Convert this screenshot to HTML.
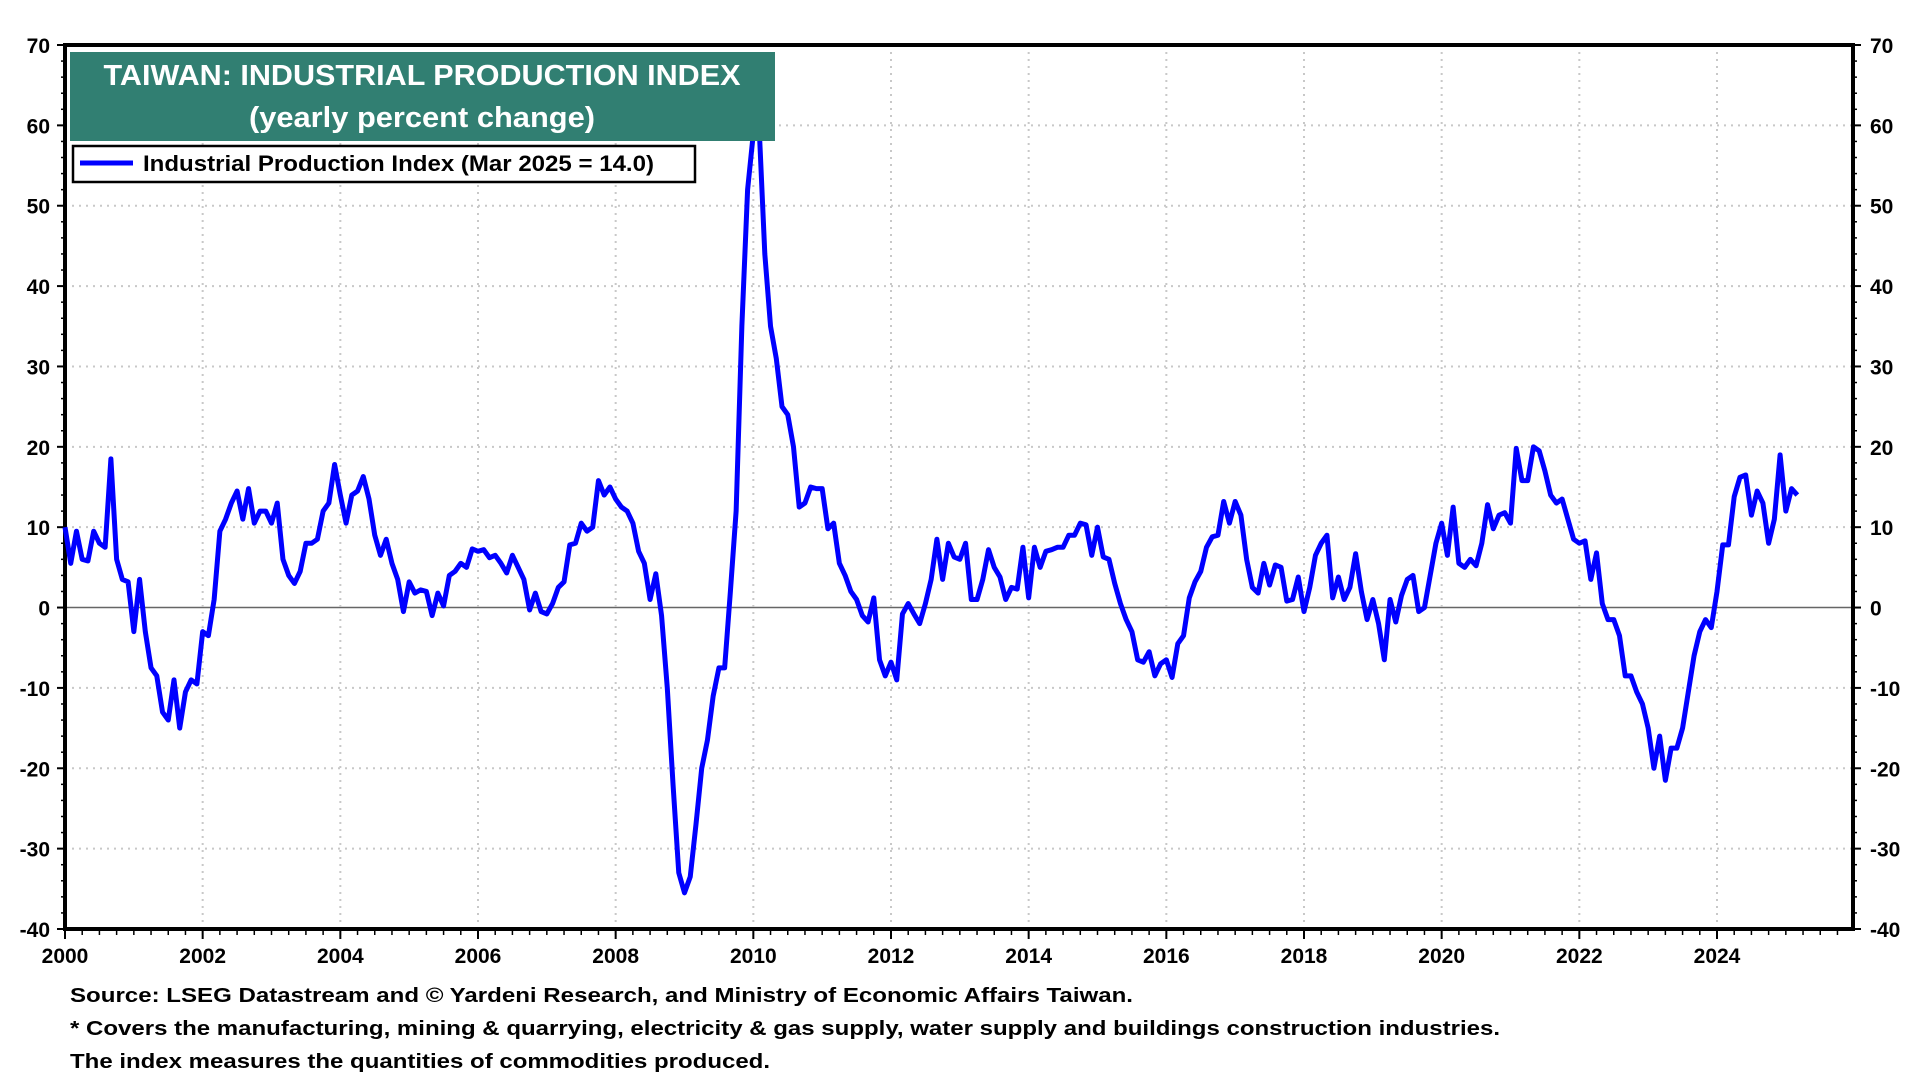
<!DOCTYPE html>
<html><head><meta charset="utf-8"><style>
html,body{margin:0;padding:0;background:#fff;}
svg{display:block;font-family:"Liberation Sans",Arial,sans-serif;}
</style></head><body>
<svg id="chart" width="1920" height="1080" viewBox="0 0 1920 1080" xmlns="http://www.w3.org/2000/svg">
<g id="grid"></g>
<g id="axes"></g>
<path id="series" fill="none" stroke="#0000ff" stroke-width="5" stroke-linejoin="round"/>
<g>
<rect x="70" y="52" width="705" height="89" fill="#317f72"/>
<text x="422" y="85" text-anchor="middle" fill="#fff" font-weight="bold" font-size="29" textLength="637" lengthAdjust="spacingAndGlyphs">TAIWAN: INDUSTRIAL PRODUCTION INDEX</text>
<text x="422" y="127" text-anchor="middle" fill="#fff" font-weight="bold" font-size="29" textLength="346" lengthAdjust="spacingAndGlyphs">(yearly percent change)</text>
</g>
<g>
<rect x="73" y="146" width="622" height="36" fill="#fff" stroke="#000" stroke-width="2.5"/>
<line x1="80" y1="163" x2="133" y2="163" stroke="#0000ff" stroke-width="5"/>
<text x="143" y="171" font-weight="bold" font-size="22" textLength="511" lengthAdjust="spacingAndGlyphs">Industrial Production Index (Mar 2025 = 14.0)</text>
</g>
<g font-weight="bold" font-size="20">
<text x="70" y="1002" textLength="1063" lengthAdjust="spacingAndGlyphs">Source: LSEG Datastream and © Yardeni Research, and Ministry of Economic Affairs Taiwan.</text>
<text x="70" y="1035" textLength="1430" lengthAdjust="spacingAndGlyphs">* Covers the manufacturing, mining &amp; quarrying, electricity &amp; gas supply, water supply and buildings construction industries.</text>
<text x="70" y="1068" textLength="700" lengthAdjust="spacingAndGlyphs">The index measures the quantities of commodities produced.</text>
</g>
</svg>
<script>
const startYear = 2000;
const xTickYears = [2000,2002,2004,2006,2008,2010,2012,2014,2016,2018,2020,2022,2024];
const yTicks = [70,60,50,40,30,20,10,0,-10,-20,-30,-40];
const values2000s = [10,5.5,9.5,6,5.8,9.5,8,7.5,18.5,6,3.5,3.2,
-3,3.5,-3,-7.5,-8.5,-13,-14,-9,-15,-10.5,-9,-9.5,
-3,-3.5,1,9.5,11,13,14.5,11,14.8,10.5,12,12,
10.5,13,6,4,3,4.5,8,8,8.5,12,13,17.8,
14,10.5,14,14.5,16.3,13.5,9,6.5,8.5,5.5,3.5,-0.5,
3.2,1.8,2.2,2,-1,1.8,0.2,4,4.5,5.5,5,7.3,
7,7.2,6.2,6.5,5.5,4.3,6.5,5,3.5,-0.3,1.8,-0.5,
-0.8,0.5,2.5,3.2,7.8,8,10.5,9.5,10,15.8,14,15,
13.5,12.5,12,10.5,7,5.5,1,4.2,-1,-10,-22,-33,
-35.5,-33.5,-27,-20,-16.5,-11,-7.5,-7.5,2,12,35,52];
const values2010s = [59,60,44,35,31,25,24,20,12.5,13,15,14.8,
14.8,9.8,10.5,5.5,4,2,1,-1,-1.8,1.2,-6.5,-8.5,
-6.8,-9,-0.8,0.5,-0.8,-2,0.5,3.5,8.5,3.5,8,6.3,
6,8,1,1,3.5,7.2,5,3.8,1,2.5,2.3,7.5,
1.2,7.5,5,7,7.2,7.5,7.5,9,9,10.5,10.3,6.5,
10,6.3,6,3,0.5,-1.5,-3,-6.5,-6.8,-5.5,-8.5,-7,
-6.5,-8.7,-4.5,-3.5,1.2,3.2,4.5,7.5,8.8,9,13.2,10.5,
13.2,11.5,6,2.5,1.8,5.5,2.8,5.3,5,0.8,1,3.8,
-0.5,2.5,6.5,8,9,1.2,3.8,1,2.5,6.7,2,-1.5,
1,-2,-6.5,1,-1.8,1.5,3.5,4,-0.5,0,4,8];
const values2020s = [10.5,6.5,12.5,5.5,5,6,5.2,8,12.8,9.8,11.5,11.8,
10.5,19.8,15.8,15.8,20,19.5,17,14,13,13.5,11,8.5,
8,8.3,3.5,6.8,0.5,-1.5,-1.5,-3.5,-8.5,-8.5,-10.5,-12,
-15,-20,-16,-21.5,-17.5,-17.5,-15,-10.5,-6,-3,-1.5,-2.5,
2,7.8,7.8,13.8,16.2,16.5,11.5,14.5,13,8,11,19,
12,14.8,14];
const values = values2000s.concat(values2010s, values2020s);

const L=65,R=1853,T=45,B=929;
const pxPerYear=(1717-65)/24;
const x = t => L + (t-startYear)*pxPerYear;
const y = v => T + (70-v)*(B-T)/110;
const NS='http://www.w3.org/2000/svg';
function mk(tag,attrs,parent,txt){const e=document.createElementNS(NS,tag);for(const k in attrs)e.setAttribute(k,attrs[k]);if(txt!==undefined)e.textContent=txt;parent.appendChild(e);return e;}
const grid=document.getElementById('grid'), axes=document.getElementById('axes');
yTicks.forEach(v=>{
  if(v!==70&&v!==-40){
    const g=mk('line',{x1:L,x2:R,y1:y(v),y2:y(v),stroke:v===0?'#666':'#c8c8c8','stroke-width':v===0?1.5:2,'stroke-dasharray':v===0?'':'2 5'},grid);
    
    
  }
  const a=mk('text',{x:50,y:y(v)+8,'text-anchor':'end','font-size':21,'font-weight':'bold'},axes,String(v));
  
  
  const b=mk('text',{x:1870,y:y(v)+8,'text-anchor':'start','font-size':21,'font-weight':'bold'},axes,String(v));
  
  
  mk('line',{x1:L-8,x2:L,y1:y(v),y2:y(v),stroke:'#000','stroke-width':2},axes);
  mk('line',{x1:R,x2:R+8,y1:y(v),y2:y(v),stroke:'#000','stroke-width':2},axes);
});
for(let v=-38;v<70;v+=2){ if(v%10===0) continue;
  mk('line',{x1:L-4,x2:L,y1:y(v),y2:y(v),stroke:'#000','stroke-width':1.5},axes);
  mk('line',{x1:R,x2:R+4,y1:y(v),y2:y(v),stroke:'#000','stroke-width':1.5},axes);
}
xTickYears.forEach(yr=>{
  if(yr!==2000){
    const g=mk('line',{x1:x(yr),x2:x(yr),y1:T,y2:B,stroke:'#c8c8c8','stroke-width':2,'stroke-dasharray':'2 5'},grid);
    
    
  }
  const t=mk('text',{x:x(yr),y:963,'text-anchor':'middle','font-size':21,'font-weight':'bold'},axes,String(yr));
  
  
  mk('line',{x1:x(yr),x2:x(yr),y1:B,y2:B+10,stroke:'#000','stroke-width':2},axes);
});
for(let m=0;m<26*12;m+=3){ const t=startYear+m/12; if(x(t)>R) break;
  mk('line',{x1:x(t),x2:x(t),y1:B,y2:B+6,stroke:'#000','stroke-width':1.5},axes);
}
mk('path',{d:`M${L},${B} L${L},${T} L${R},${T} L${R},${B} Z`,fill:'none',stroke:'#000','stroke-width':4},axes);
let d='';
values.forEach((v,i)=>{d+=(i?'L':'M')+x(startYear+i/12).toFixed(2)+','+y(v).toFixed(2);});
document.getElementById('series').setAttribute('d',d);
</script>
</body></html>
